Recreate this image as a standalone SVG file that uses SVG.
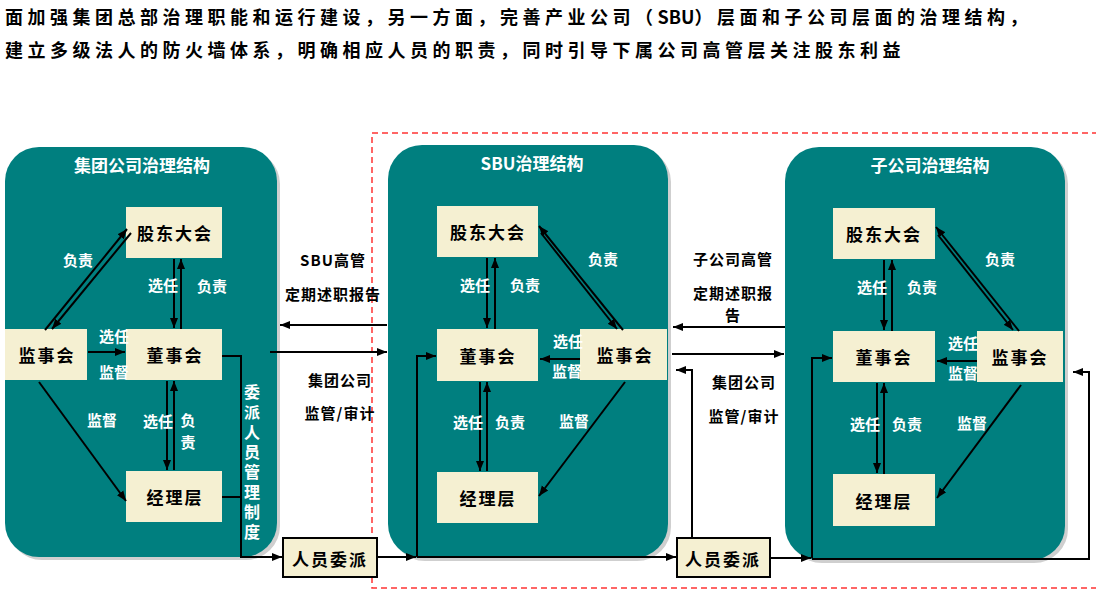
<svg xmlns="http://www.w3.org/2000/svg" width="1096" height="592" viewBox="0 0 1096 592">
<style>
text{font-family:"Noto Sans CJK SC","Noto Sans",sans-serif;font-weight:bold;}
.top{font-size:18px;fill:#000;letter-spacing:4.5px;}
.ttl{font-size:17px;fill:#fff;text-anchor:middle;dominant-baseline:central;}
.nd{font-size:17px;fill:#000;text-anchor:middle;dominant-baseline:central;letter-spacing:2px;}
.lb{font-size:15px;fill:#fff;text-anchor:middle;dominant-baseline:central;}
.vt{font-size:16px;fill:#fff;writing-mode:vertical-rl;letter-spacing:4px;dominant-baseline:central;}
.mid{font-size:15px;fill:#000;text-anchor:middle;dominant-baseline:central;letter-spacing:1px;}
.panel{fill:#007F7F;}
.shadow{fill:#cfcfcf;}
.box{fill:#F5F0D2;}
.box2{fill:#F5F0D2;stroke:#000;stroke-width:2;}
.ln{stroke:#000;stroke-width:2;fill:none;}
.ar{stroke:#000;stroke-width:2;fill:none;marker-end:url(#ah);}
</style>
<defs>
<marker id="ah" viewBox="0 0 10 10" refX="10" refY="5" markerWidth="10" markerHeight="10" markerUnits="userSpaceOnUse" orient="auto"><path d="M0,1 L10,5 L0,9 z" fill="#000"/></marker>
</defs>
<rect width="1096" height="592" fill="#fff"/>
<text class="top" x="5" y="24">面加强集团总部治理职能和运行建设，另一方面，完善产业公司（<tspan style="letter-spacing:0">SBU</tspan>）层面和子公司层面的治理结构，</text>
<text class="top" x="5" y="57">建立多级法人的防火墙体系，明确相应人员的职责，同时引导下属公司高管层关注股东利益</text>
<rect x="372" y="133" width="730" height="455" fill="none" stroke="#FF3333" stroke-width="1.5" stroke-dasharray="6,4"/>
<g id="panel-group">
<rect class="shadow" x="8" y="150" width="272" height="410" rx="34"/>
<rect class="panel" x="5" y="147" width="272" height="410" rx="34"/>
<text class="ttl" x="142" y="164">集团公司治理结构</text>
</g>
<g id="panel-sbu">
<rect class="shadow" x="391" y="148" width="280" height="413" rx="34"/>
<rect class="panel" x="388" y="145" width="280" height="413" rx="34"/>
<text class="ttl" x="532" y="162">SBU治理结构</text>
</g>
<g id="panel-sub">
<rect class="shadow" x="788" y="150" width="280" height="413" rx="34"/>
<rect class="panel" x="785" y="147" width="280" height="413" rx="34"/>
<text class="ttl" x="930" y="164">子公司治理结构</text>
</g>
<g id="g1-gdh"><rect class="box" x="126" y="207" width="96" height="51"/><text class="nd" x="175" y="232">股东大会</text></g>
<g id="g1-jsh"><rect class="box" x="5" y="329" width="82" height="51"/><text class="nd" x="47" y="354">监事会</text></g>
<g id="g1-dsh"><rect class="box" x="126" y="329" width="96" height="51"/><text class="nd" x="175" y="354">董事会</text></g>
<g id="g1-jlc"><rect class="box" x="126" y="471" width="96" height="51"/><text class="nd" x="175" y="496">经理层</text></g>
<g id="g2-gdh"><rect class="box" x="437" y="206" width="101" height="51"/><text class="nd" x="488" y="231">股东大会</text></g>
<g id="g2-dsh"><rect class="box" x="437" y="329" width="101" height="52"/><text class="nd" x="488" y="355">董事会</text></g>
<g id="g2-jsh"><rect class="box" x="580" y="329" width="87" height="51"/><text class="nd" x="625" y="354">监事会</text></g>
<g id="g2-jlc"><rect class="box" x="437" y="472" width="101" height="51"/><text class="nd" x="488" y="497">经理层</text></g>
<g id="g3-gdh"><rect class="box" x="833" y="208" width="102" height="51"/><text class="nd" x="884" y="233">股东大会</text></g>
<g id="g3-dsh"><rect class="box" x="833" y="331" width="102" height="51"/><text class="nd" x="884" y="356">董事会</text></g>
<g id="g3-jsh"><rect class="box" x="977" y="331" width="86" height="51"/><text class="nd" x="1020" y="356">监事会</text></g>
<g id="g3-jlc"><rect class="box" x="833" y="474" width="102" height="52"/><text class="nd" x="884" y="500">经理层</text></g>
<g id="rywp1"><rect class="box2" x="283" y="538" width="94" height="39"/><text class="nd" x="330" y="558">人员委派</text></g>
<g id="rywp2"><rect class="box2" x="677" y="538" width="93" height="39"/><text class="nd" x="723" y="558">人员委派</text></g>
<g id="connectors">
<line class="ar" x1="45" y1="330" x2="127" y2="229"/>
<line class="ar" x1="131" y1="233" x2="52" y2="329"/>
<line class="ar" x1="174" y1="259" x2="174" y2="328"/>
<line class="ar" x1="181" y1="329" x2="181" y2="259"/>
<line class="ar" x1="88" y1="352" x2="125" y2="352"/>
<line class="ar" x1="167" y1="381" x2="167" y2="470"/>
<line class="ar" x1="174" y1="470" x2="174" y2="381"/>
<line class="ar" x1="39" y1="382" x2="126" y2="501"/>
<polyline class="ar" points="222,356 241,356 241,557 282,557"/>
<line class="ln" x1="222" y1="497" x2="241" y2="497"/>
<line class="ar" x1="377" y1="557" x2="416" y2="557"/>
<line class="ar" x1="417" y1="557" x2="676" y2="557"/>
<polyline class="ar" points="417,557 417,356 436,356"/>
<line class="ar" x1="387" y1="325" x2="280" y2="325"/>
<line class="ar" x1="270" y1="352" x2="387" y2="352"/>
<line class="ar" x1="487" y1="258" x2="487" y2="328"/>
<line class="ar" x1="495" y1="329" x2="495" y2="258"/>
<line class="ar" x1="623" y1="330" x2="539" y2="226"/>
<line class="ar" x1="541" y1="233" x2="617" y2="329"/>
<line class="ar" x1="580" y1="359" x2="540" y2="359"/>
<line class="ar" x1="480" y1="382" x2="480" y2="471"/>
<line class="ar" x1="487" y1="471" x2="487" y2="382"/>
<line class="ar" x1="625" y1="382" x2="539" y2="496"/>
<polyline class="ar" points="692,538 692,370 676,370"/>
<line class="ar" x1="785" y1="327" x2="673" y2="327"/>
<line class="ar" x1="672" y1="354" x2="784" y2="354"/>
<line class="ar" x1="770" y1="558" x2="811" y2="558"/>
<polyline class="ar" points="812,558 812,358 832,358"/>
<polyline class="ar" points="812,559 1089,559 1089,372 1073,372"/>
<line class="ar" x1="884" y1="260" x2="884" y2="330"/>
<line class="ar" x1="892" y1="331" x2="892" y2="260"/>
<line class="ar" x1="1019" y1="331" x2="936" y2="227"/>
<line class="ar" x1="938" y1="235" x2="1013" y2="330"/>
<line class="ar" x1="977" y1="361" x2="937" y2="361"/>
<line class="ar" x1="877" y1="383" x2="877" y2="473"/>
<line class="ar" x1="884" y1="474" x2="884" y2="383"/>
<line class="ar" x1="1021" y1="385" x2="937" y2="498"/>
</g>
<g id="labels">
<text class="lb" x="78" y="259">负责</text>
<text class="lb" x="163" y="284">选任</text>
<text class="lb" x="212" y="285">负责</text>
<text class="lb" x="114" y="335">选任</text>
<text class="lb" x="114" y="371">监督</text>
<text class="lb" x="102" y="419">监督</text>
<text class="lb" x="158" y="420">选任</text>
<text class="lb" x="188" y="419">负</text>
<text class="lb" x="188" y="441">责</text>
<text class="vt" x="252" y="384">委派人员管理制度</text>
<text class="lb" x="603" y="258">负责</text>
<text class="lb" x="475" y="284">选任</text>
<text class="lb" x="525" y="284">负责</text>
<text class="lb" x="568" y="340">选任</text>
<text class="lb" x="567" y="370">监督</text>
<text class="lb" x="468" y="421">选任</text>
<text class="lb" x="510" y="421">负责</text>
<text class="lb" x="574" y="420">监督</text>
<text class="lb" x="1000" y="258">负责</text>
<text class="lb" x="872" y="286">选任</text>
<text class="lb" x="922" y="286">负责</text>
<text class="lb" x="963" y="342">选任</text>
<text class="lb" x="963" y="372">监督</text>
<text class="lb" x="865" y="423">选任</text>
<text class="lb" x="907" y="423">负责</text>
<text class="lb" x="972" y="422">监督</text>
<text class="mid" x="333" y="259">SBU高管</text>
<text class="mid" x="333" y="293">定期述职报告</text>
<text class="mid" x="340" y="379">集团公司</text>
<text class="mid" x="340" y="412">监管/审计</text>
<text class="mid" x="733" y="258">子公司高管</text>
<text class="mid" x="733" y="292">定期述职报</text>
<text class="mid" x="733" y="314">告</text>
<text class="mid" x="744" y="381">集团公司</text>
<text class="mid" x="744" y="415">监管/审计</text>
</g>
</svg>
